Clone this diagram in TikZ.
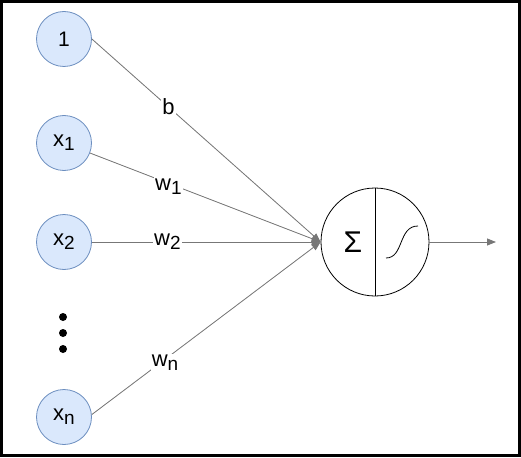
\documentclass[tikz,border=0pt]{standalone}
\usepackage{fontspec}
\setmainfont{Liberation Sans}
\usetikzlibrary{arrows.meta}
\definecolor{infill}{HTML}{DAE8FC}
\definecolor{indraw}{HTML}{6C8EBF}
\definecolor{edge}{HTML}{777777}
\newcommand\sbs[1]{\raisebox{-4pt}{\fontsize{19}{19}\selectfont #1}}
\begin{document}
\begin{tikzpicture}[x=1pt,y=-1pt,
  input/.style={circle,draw=indraw,fill=infill,line width=0.8pt,minimum size=55pt,inner sep=0pt,font=\fontsize{22}{23}\selectfont},
  conn/.style={draw=edge,line width=0.8pt},
  arr/.style={conn,-{Triangle[length=9pt,width=7pt]},fill=edge},
  wlabel/.style={fill=white,inner sep=1pt,font=\fontsize{22}{23}\selectfont},
  dotn/.style={circle,fill=black,minimum size=8pt,inner sep=0pt}]
\useasboundingbox (0,0) rectangle (521,457);
\draw[line width=3pt] (1.5,1.5) rectangle (519,455.5);
\node[input,font=\fontsize{21}{22}\selectfont] (one) at (64,39) {1};
\node[input] (x1) at (64,143) {x\sbs{1}};
\node[input] (x2) at (64,242) {x\sbs{2}};
\node[input] (xn) at (64,417) {x\sbs{n}};
\node[dotn] (d1) at (63,317) {};
\node[dotn] (d2) at (63,333) {};
\node[dotn] (d3) at (63,349) {};
\node[circle,draw=black,line width=0.8pt,minimum size=108pt,inner sep=0pt] (sum) at (375,242) {};
\draw[line width=0.8pt] (sum.north) -- (sum.south);
\node[font=\fontsize{30}{30}\selectfont,anchor=base,inner sep=0pt] (sig) at (353,252) {Σ};
\draw[line width=0.8pt] (386,258) .. controls (404,258) and (398,226) .. (418,226);
\coordinate (out) at (496,242);
\draw[arr] (one.east) -- node[wlabel,pos=0.335] {b} (sum.west);
\draw[arr] (x1) -- node[wlabel,pos=0.34,yshift=-3pt] {w\sbs{1}} (sum.west);
\draw[arr] (x2) -- node[wlabel,pos=0.33] {w\sbs{2}} (sum.west);
\draw[arr] (xn.5) -- node[wlabel,pos=0.32,yshift=-3pt] {w\sbs{n}} (sum.west);
\draw[arr] (sum.east) -- (out);
\end{tikzpicture}
\end{document}
